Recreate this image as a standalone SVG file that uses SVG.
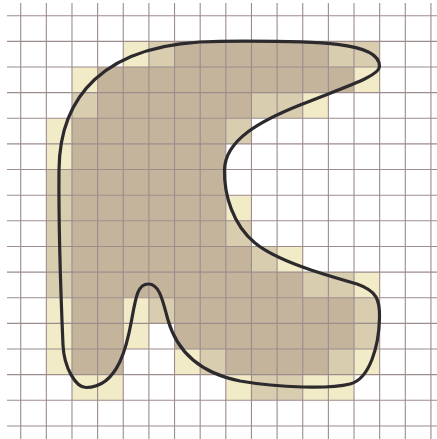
<svg xmlns="http://www.w3.org/2000/svg" width="437" height="439" viewBox="0 0 437 439">
<style>
.d{fill:#c4b49b}
.l{fill:#d9cdb0}
.y{fill:#f2ebc8}
.g line{stroke:#9c8c8c;stroke-width:1.1}
.outline{fill:none;stroke:#2d2a2e;stroke-width:3.2;stroke-linejoin:round}
</style>
<rect width="437" height="439" fill="#ffffff"/>
<g id="cells" transform="translate(20.7,15.7) scale(25.64)">
<rect class="y" x="4" y="1" width="1" height="1"/><rect class="l" x="5" y="1" width="1" height="1"/><rect class="d" x="6" y="1" width="6" height="1"/><rect class="l" x="12" y="1" width="2" height="1"/>
<rect class="y" x="2" y="2" width="1" height="1"/><rect class="d" x="3" y="2" width="10" height="1"/><rect class="y" x="13" y="2" width="1" height="1"/>
<rect class="l" x="2" y="3" width="1" height="1"/><rect class="d" x="3" y="3" width="6" height="1"/><rect class="l" x="9" y="3" width="2" height="1"/><rect class="y" x="11" y="3" width="1" height="1"/>
<rect class="y" x="1" y="4" width="1" height="1"/><rect class="d" x="2" y="4" width="6" height="1"/><rect class="l" x="8" y="4" width="1" height="1"/>
<rect class="y" x="1" y="5" width="1" height="1"/><rect class="d" x="2" y="5" width="6" height="1"/>
<rect class="l" x="1" y="6" width="1" height="1"/><rect class="d" x="2" y="6" width="6" height="1"/>
<rect class="l" x="1" y="7" width="1" height="1"/><rect class="d" x="2" y="7" width="6" height="1"/><rect class="y" x="8" y="7" width="1" height="1"/>
<rect class="l" x="1" y="8" width="1" height="1"/><rect class="d" x="2" y="8" width="6" height="1"/><rect class="l" x="8" y="8" width="1" height="1"/>
<rect class="l" x="1" y="9" width="1" height="1"/><rect class="d" x="2" y="9" width="7" height="1"/><rect class="l" x="9" y="9" width="1" height="1"/><rect class="y" x="10" y="9" width="1" height="1"/>
<rect class="l" x="1" y="10" width="1" height="1"/><rect class="d" x="2" y="10" width="9" height="1"/><rect class="l" x="11" y="10" width="2" height="1"/><rect class="y" x="13" y="10" width="1" height="1"/>
<rect class="y" x="1" y="11" width="1" height="1"/><rect class="d" x="2" y="11" width="2" height="1"/><rect class="y" x="4" y="11" width="1" height="1"/><rect class="l" x="5" y="11" width="1" height="1"/><rect class="d" x="6" y="11" width="7" height="1"/><rect class="l" x="13" y="11" width="1" height="1"/>
<rect class="y" x="1" y="12" width="1" height="1"/><rect class="d" x="2" y="12" width="2" height="1"/><rect class="y" x="4" y="12" width="1" height="1"/><rect class="d" x="6" y="12" width="7" height="1"/><rect class="l" x="13" y="12" width="1" height="1"/>
<rect class="y" x="1" y="13" width="1" height="1"/><rect class="d" x="2" y="13" width="2" height="1"/><rect class="y" x="6" y="13" width="1" height="1"/><rect class="l" x="7" y="13" width="1" height="1"/><rect class="d" x="8" y="13" width="4" height="1"/><rect class="l" x="12" y="13" width="1" height="1"/><rect class="y" x="13" y="13" width="1" height="1"/>
<rect class="y" x="2" y="14" width="2" height="1"/><rect class="y" x="8" y="14" width="1" height="1"/><rect class="l" x="9" y="14" width="2" height="1"/><rect class="y" x="11" y="14" width="2" height="1"/>
</g>
<g id="grid" class="g">
<line x1="20.7" y1="3" x2="20.7" y2="439"/><line x1="46.34" y1="3" x2="46.34" y2="439"/><line x1="71.98" y1="3" x2="71.98" y2="439"/><line x1="97.62" y1="3" x2="97.62" y2="439"/><line x1="123.26" y1="3" x2="123.26" y2="439"/><line x1="148.9" y1="3" x2="148.9" y2="439"/><line x1="174.54" y1="3" x2="174.54" y2="439"/><line x1="200.18" y1="3" x2="200.18" y2="439"/><line x1="225.82" y1="3" x2="225.82" y2="439"/><line x1="251.46" y1="3" x2="251.46" y2="439"/><line x1="277.1" y1="3" x2="277.1" y2="439"/><line x1="302.74" y1="3" x2="302.74" y2="439"/><line x1="328.38" y1="3" x2="328.38" y2="439"/><line x1="354.02" y1="3" x2="354.02" y2="439"/><line x1="379.66" y1="3" x2="379.66" y2="439"/><line x1="405.3" y1="3" x2="405.3" y2="439"/><line x1="430.94" y1="3" x2="430.94" y2="439"/>
<line x1="7" y1="15.7" x2="437" y2="15.7"/><line x1="7" y1="41.34" x2="437" y2="41.34"/><line x1="7" y1="66.98" x2="437" y2="66.98"/><line x1="7" y1="92.62" x2="437" y2="92.62"/><line x1="7" y1="118.26" x2="437" y2="118.26"/><line x1="7" y1="143.9" x2="437" y2="143.9"/><line x1="7" y1="169.54" x2="437" y2="169.54"/><line x1="7" y1="195.18" x2="437" y2="195.18"/><line x1="7" y1="220.82" x2="437" y2="220.82"/><line x1="7" y1="246.46" x2="437" y2="246.46"/><line x1="7" y1="272.1" x2="437" y2="272.1"/><line x1="7" y1="297.74" x2="437" y2="297.74"/><line x1="7" y1="323.38" x2="437" y2="323.38"/><line x1="7" y1="349.02" x2="437" y2="349.02"/><line x1="7" y1="374.66" x2="437" y2="374.66"/><line x1="7" y1="400.3" x2="437" y2="400.3"/><line x1="7" y1="425.94" x2="437" y2="425.94"/>
</g>
<g id="shape">
<path class="outline" d="M220,41.3 C320,40.5 380,42 379.5,66.5 C379,76 350,85 300,105 C260,121 225,140 224.5,170 C224,195 233,225 255,243 C277,261 322,274 357,284 C377,291 380,300 379.5,318 C379,345 370,379 350,384 C330,389 280,388 240,381 C205,374 178,355 168,320 C163,302.5 160,284 148.5,284 C138,284 136,296 132,318 C128,340 120,387.5 86,387.5 C76,387.5 64,368 63,345 C62,322 58.5,230 59,170 C59.5,100 100,41.5 220,41.3 Z"/>
</g>
</svg>
